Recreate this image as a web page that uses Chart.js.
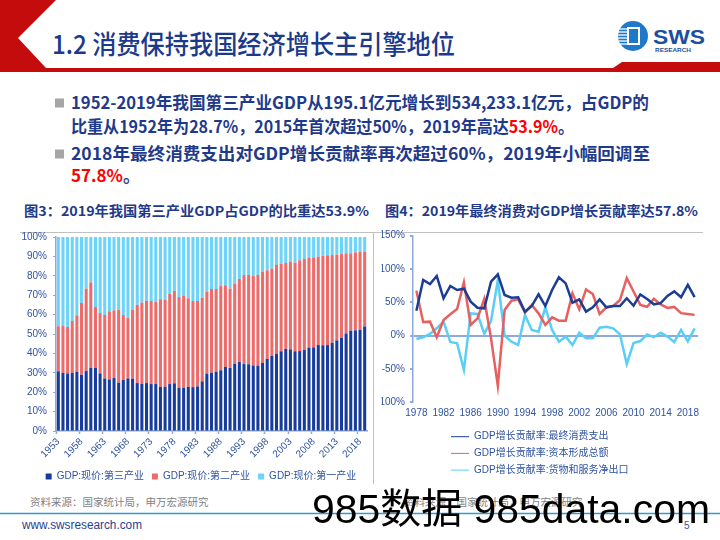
<!DOCTYPE html>
<html><head><meta charset="utf-8">
<script src="https://cdn.jsdelivr.net/npm/chart.js@4.4.1/dist/chart.umd.min.js"></script>
<style>
html,body{margin:0;padding:0;background:#fff;}
#wrap{position:relative;width:720px;height:540px;overflow:hidden;background:#fff;}
svg{position:absolute;left:0;top:0;}
canvas{position:absolute;}
#c1{left:0;top:229px;width:387px;height:264px;}
#c2{left:373px;top:228px;width:347px;height:260px;}
.cjk{font-family:'Noto Sans CJK SC','Liberation Sans',sans-serif;}
</style></head><body>
<div id="wrap">
<svg id="bg" width="720" height="540">
  <polygon points="0,0 56,0 18,38 46,68 613,68 622,62 720,62 720,72 0,72" fill="#C40C0C"/>
  <!-- logo -->
  <circle cx="633" cy="36" r="15" fill="#1F78C8"/>
  <g stroke="#fff" stroke-width="1.3">
    <line x1="619" y1="29" x2="628" y2="29"/><line x1="618" y1="32" x2="628" y2="32"/>
    <line x1="618" y1="35" x2="628" y2="35"/><line x1="618" y1="38" x2="628" y2="38"/>
    <line x1="618" y1="41" x2="628" y2="41"/><line x1="619" y1="44" x2="628" y2="44"/>
  </g>
  <rect x="628" y="28" width="11" height="16" fill="none" stroke="#fff" stroke-width="2"/>
  <text x="653" y="44" font-family="Liberation Sans" font-weight="bold" font-size="21" fill="#1C4F9E" textLength="52" lengthAdjust="spacingAndGlyphs">SWS</text>
  <text x="655" y="52" font-family="Liberation Sans" font-weight="bold" font-size="6" fill="#1C4F9E" textLength="36" lengthAdjust="spacingAndGlyphs">RESEARCH</text>
  <!-- title -->
  <text class="cjk" x="52" y="54" font-size="26" font-weight="500" fill="#1B3A8C" textLength="403" lengthAdjust="spacingAndGlyphs">1.2 消费保持我国经济增长主引擎地位</text>
  <!-- bullets -->
  <rect x="55" y="98.5" width="9" height="9" fill="#A6A6A6"/>
  <rect x="55" y="149.5" width="9" height="9" fill="#A6A6A6"/>
  <g class="cjk" font-size="17" font-weight="bold" fill="#1F3A8A">
    <text x="71" y="109" textLength="578" lengthAdjust="spacingAndGlyphs">1952-2019年我国第三产业GDP从195.1亿元增长到534,233.1亿元，占GDP的</text>
    <text x="71" y="133" textLength="503" lengthAdjust="spacingAndGlyphs">比重从1952年为28.7%，2015年首次超过50%，2019年高达<tspan fill="#FF0000">53.9%</tspan>。</text>
    <text x="71" y="160" textLength="579" lengthAdjust="spacingAndGlyphs">2018年最终消费支出对GDP增长贡献率再次超过60%，2019年小幅回调至</text>
    <text x="71" y="182" fill="#FF0000">57.8%<tspan fill="#1F3A8A">。</tspan></text>
  </g>
  <!-- captions -->
  <g class="cjk" font-size="13.5" font-weight="bold" fill="#1F3A8A">
    <text x="24" y="216" textLength="345" lengthAdjust="spacingAndGlyphs">图3：2019年我国第三产业GDP占GDP的比重达53.9%</text>
    <text x="385" y="216" textLength="313" lengthAdjust="spacingAndGlyphs">图4：2019年最终消费对GDP增长贡献率达57.8%</text>
  </g>
  <!-- frames -->
  <line x1="20" y1="232.5" x2="703" y2="232.5" stroke="#C0C0C0" stroke-width="1"/>
  <line x1="373.5" y1="232" x2="373.5" y2="484" stroke="#C0C0C0" stroke-width="1"/>
  <!-- sources -->
  <g class="cjk" font-size="10.5" fill="#7F7F7F">
    <text x="30" y="506">资料来源：国家统计局，申万宏源研究</text>
    <text x="404" y="506">资料来源：国家统计局，申万宏源研究</text>
  </g>
  <!-- footer -->
  <line x1="0" y1="513.5" x2="720" y2="513.5" stroke="#2E9AD6" stroke-width="1.5"/>
  <text x="22" y="529" font-family="Liberation Sans" font-size="12" fill="#1F3F94" textLength="120" lengthAdjust="spacingAndGlyphs">www.swsresearch.com</text>
  <text x="684" y="529" font-family="Liberation Sans" font-size="10" fill="#2F5597">5</text>
</svg>
<canvas id="c1" width="387" height="264"></canvas>
<canvas id="c2" width="347" height="260"></canvas>
<svg id="wm" width="720" height="540">
  <text x="312" y="523" font-family="'Liberation Sans','Noto Sans CJK SC',sans-serif" font-size="41" fill="#000" textLength="398" lengthAdjust="spacingAndGlyphs">985数据 985data.com</text>
</svg>
</div>
<script>
// ---------- Chart 1 data: share of GDP by sector (%) ----------
const years1 = ["1953","1954","1955","1956","1957","1958","1959","1960","1961","1962",
"1963","1964","1965","1966","1967","1968","1969","1970","1971","1972",
"1973","1974","1975","1976","1977","1978","1979","1980","1981","1982",
"1983","1984","1985","1986","1987","1988","1989","1990","1991","1992",
"1993","1994","1995","1996","1997","1998","1999","2000","2001","2002",
"2003","2004","2005","2006","2007","2008","2009","2010","2011","2012",
"2013","2014","2015","2016","2017","2018","2019"];
const tertiary = [30.8,29.9,29.7,29.9,30.4,29.0,30.9,32.5,32.5,29.7,
27.1,26.6,27.3,24.9,26.3,27.1,27.0,24.7,24.4,24.7,
24.2,24.2,22.7,22.8,24.2,24.6,22.3,22.3,22.7,22.6,
23.0,25.6,29.6,30.1,30.6,31.3,33.0,32.5,34.7,35.6,
34.5,34.4,33.8,33.7,35.1,37.1,38.8,39.9,41.1,42.3,
42.1,41.1,41.2,41.9,43.0,43.1,44.3,44.2,44.3,45.5,
46.7,48.1,50.3,51.7,51.9,52.2,53.9];
const secondary = [23.2,24.2,23.9,26.8,29.2,37.0,42.5,44.1,31.4,31.1,
32.7,35.1,34.9,37.6,33.5,31.1,35.5,40.3,41.8,42.5,
42.8,42.5,45.2,44.9,46.6,47.6,46.8,47.6,45.7,44.4,
44.0,43.1,42.2,43.1,42.6,43.4,42.1,40.9,41.1,42.8,
45.9,46.0,46.3,46.7,47.0,45.7,44.9,45.7,45.0,44.3,
45.2,45.7,46.8,46.8,46.2,46.4,45.6,46.2,46.3,45.2,
44.2,43.1,41.3,39.9,40.2,40.2,38.5];
const primary = [46.0,45.9,46.4,43.3,40.4,34.0,26.6,23.4,36.1,39.2,
40.2,38.3,37.8,37.5,40.2,41.8,37.5,35.0,33.8,32.8,
33.0,33.3,32.1,32.3,29.2,27.8,30.9,30.1,31.6,33.0,
33.0,31.3,28.2,26.8,26.8,25.3,24.9,26.6,24.2,21.6,
19.6,19.6,19.9,19.6,17.9,17.2,16.3,14.4,13.9,13.4,
12.7,13.2,12.0,11.3,10.8,10.5,10.1,9.6,9.4,9.3,
9.1,8.8,8.4,8.4,7.9,7.6,7.6];
const names1 = ["GDP:现价:第三产业","GDP:现价:第二产业","GDP:现价:第一产业"];

// ---------- Chart 2 data: contribution to GDP growth (%) ----------
const years2 = ["1978","1979","1980","1981","1982","1983","1984","1985","1986","1987",
"1988","1989","1990","1991","1992","1993","1994","1995","1996","1997",
"1998","1999","2000","2001","2002","2003","2004","2005","2006","2007",
"2008","2009","2010","2011","2012","2013","2014","2015","2016","2017",
"2018","2019"];
const consumption = [37.5,83.5,77.5,89.5,56,74.5,68.5,70.5,51,42,
41,81,92,61,57,57.5,36,44.5,62,44.5,
68.5,87.5,78.5,49.5,54.5,36,42.5,54.5,42.5,44.5,
44.5,56.1,44.9,61.9,54.9,47.0,48.8,59.7,66.5,57.6,
76.2,57.8];
const capital = [67.5,20.5,21,-2.5,23.5,32,40,80,16,26,
55,-4,-75,38.5,52.5,54.5,34.5,46,33.5,16,
27.5,22.5,22.5,63.5,39.5,69.5,62.5,32.5,42.5,44.5,
53.5,86.5,66.3,46.2,43.4,55.3,46.9,41.7,43.1,33.8,
32.4,31.2];
const netExport = [-5,-2.5,2.5,11,21,-9.5,-11.5,-51.5,33.5,32.5,
3,22,83.5,0,-9,-14,31,8.5,6,42.5,
8.5,-9,-1.5,-14,4.5,-4,-4,12,13.5,11,
2,-42.6,-11.2,-8.1,1.7,-2.3,4.3,-1.4,-9.6,8.6,
-8.6,11.0];
const names2 = ["GDP增长贡献率:最终消费支出","GDP增长贡献率:资本形成总额","GDP增长贡献率:货物和服务净出口"];

const FAM = "'Liberation Sans','Noto Sans CJK SC',sans-serif";
const AXIS = '#8EA9DB';
const TXT = '#2F53A0';

new Chart(document.getElementById('c1'), {
  type: 'bar',
  data: {
    labels: years1,
    datasets: [
      {label: names1[0], data: tertiary, backgroundColor: '#183C9C'},
      {label: names1[1], data: secondary, backgroundColor: '#EC6B6B'},
      {label: names1[2], data: primary, backgroundColor: '#6CD3FA'}
    ]
  },
  options: {
    responsive: false, animation: false, devicePixelRatio: 1,
    layout: {padding: {left: 20, right: 5, top: 8, bottom: 1.5}},
    datasets: {bar: {categoryPercentage: 0.66, barPercentage: 1}},
    plugins: {
      legend: {position: 'bottom', labels: {boxWidth: 6, boxHeight: 6, padding: 8, color: TXT, font: {size: 10, family: FAM}}},
      tooltip: {enabled: false}
    },
    scales: {
      x: {
        stacked: true,
        grid: {drawOnChartArea: false, tickLength: 3, tickWidth: 1.5,
               tickColor: (c) => (c.index % 5 === 0 ? AXIS : 'rgba(0,0,0,0)')},
        border: {color: AXIS, width: 1.5},
        ticks: {autoSkip: false, maxRotation: 45, minRotation: 45, padding: 2, color: TXT,
                font: {size: 10, family: FAM},
                callback: (v, i) => (i % 5 === 0 ? years1[i] : '')},
        afterFit: (s) => { s.height = 32.5; s.paddingLeft = 0; s.paddingRight = 0; }
      },
      y: {
        stacked: true, min: 0, max: 100,
        grid: {drawOnChartArea: false, tickLength: 3, tickColor: AXIS},
        border: {color: AXIS, width: 1.5},
        ticks: {stepSize: 10, padding: 6, color: TXT, font: {size: 10, family: FAM},
                callback: (v) => v + '%'},
        afterFit: (s) => { s.width = 36; s.paddingTop = 0; s.paddingBottom = 0; }
      },
      ySpacer: {
        axis: 'y', position: 'right', display: true,
        grid: {display: false}, border: {display: false}, ticks: {display: false},
        afterFit: (s) => { s.width = 15; s.paddingTop = 0; s.paddingBottom = 0; }
      }
    }
  }
});

new Chart(document.getElementById('c2'), {
  type: 'line',
  data: {
    labels: years2,
    datasets: [
      {label: names2[0] + '\u3000\u3000', data: consumption, borderColor: '#1B3D94', backgroundColor: '#1B3D94'},
      {label: names2[1] + '\u3000\u3000', data: capital, borderColor: '#E85F5F', backgroundColor: '#E85F5F'},
      {label: names2[2], data: netExport, borderColor: '#5BCEF7', backgroundColor: '#5BCEF7'}
    ]
  },
  options: {
    responsive: false, animation: false, devicePixelRatio: 1,
    layout: {padding: {left: 8.5, right: 22, top: 7.7, bottom: 2.9}},
    elements: {line: {borderWidth: 2.5, tension: 0}, point: {radius: 0}},
    plugins: {
      legend: {position: 'bottom', labels: {usePointStyle: true, pointStyle: 'line', pointStyleWidth: 18,
               padding: 6.7, color: TXT, font: {size: 10, family: FAM}}},
      tooltip: {enabled: false}
    },
    scales: {
      x: {
        offset: true,
        grid: {display: false, drawTicks: false},
        border: {display: false},
        ticks: {autoSkip: false, maxRotation: 0, padding: 5, color: TXT, font: {size: 10, family: FAM},
                callback: (v, i) => (i % 4 === 0 ? years2[i] : '')},
        afterFit: (s) => { s.height = 22.7; s.paddingLeft = 0; s.paddingRight = 0; }
      },
      y: {
        min: -100, max: 150,
        grid: {color: (c) => (c.tick && c.tick.value === 0 ? AXIS : 'rgba(0,0,0,0)'), lineWidth: 2,
               tickLength: 3, tickColor: AXIS},
        border: {color: AXIS, width: 1.5},
        ticks: {stepSize: 50, padding: 5, color: TXT, font: {size: 10, family: FAM},
                callback: (v) => v + '%'},
        afterFit: (s) => { s.width = 31.5; s.paddingTop = 0; s.paddingBottom = 0; }
      }
    }
  }
});
</script>
</body></html>
